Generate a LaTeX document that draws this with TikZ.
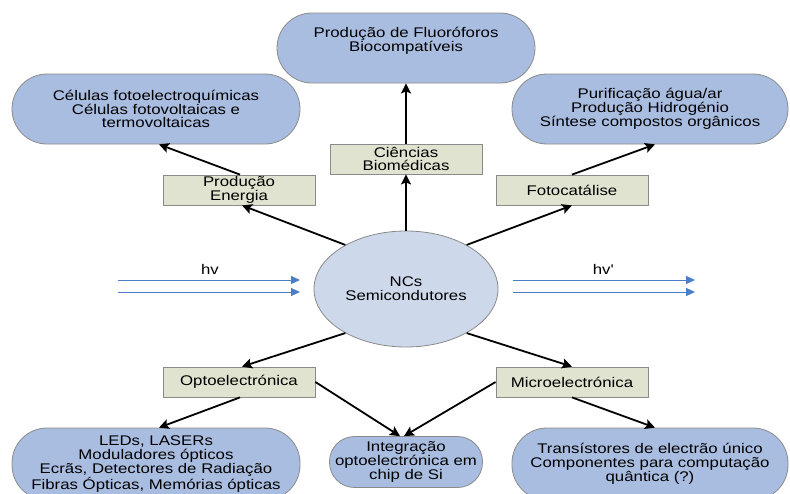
\documentclass[tikz,border=0pt]{standalone}
\usepackage{fontspec}
\setmainfont{Liberation Sans}[FakeStretch=1.2]
\usetikzlibrary{arrows.meta,shapes.geometric}
\definecolor{blobfill}{HTML}{A9BDE0}
\definecolor{ellfill}{HTML}{CDD8EB}
\definecolor{boxfill}{HTML}{DFE3CF}
\definecolor{edgegray}{HTML}{8A8A8A}
\definecolor{rayblue}{HTML}{4A7EC6}
\tikzset{
  blob/.style={draw=edgegray, line width=0.8pt, fill=blobfill, rounded corners=35pt,
    minimum width=288pt, minimum height=72pt, inner sep=0pt, align=center,
    font=\fontsize{14}{13.8}\selectfont},
  smallblob/.style={blob, rounded corners=25pt, minimum width=153pt, minimum height=51pt},
  catbox/.style={draw=edgegray, line width=0.8pt, fill=boxfill, minimum width=152pt,
    minimum height=30pt, inner sep=0pt, align=center, font=\fontsize{14}{13.8}\selectfont},
  core/.style={draw=edgegray, line width=0.8pt, fill=ellfill, ellipse, minimum width=184pt,
    minimum height=116pt, inner sep=0pt, align=center, font=\fontsize{14}{13.8}\selectfont},
  link/.style={draw=black, line width=1.8pt, -{Stealth[length=10pt,width=10pt,inset=2pt]}},
  ray/.style={draw=rayblue, line width=1pt, -{Triangle[length=9pt,width=8pt]}},
  lbl/.style={font=\fontsize{14}{13.8}\selectfont, inner sep=0pt}
}
\begin{document}
\begin{tikzpicture}[x=1pt,y=-1pt]
\useasboundingbox (0,0) rectangle (790,493);
% nodes
\node[blob, minimum width=258pt, minimum height=70pt] (fluo) at (406,48) {};
\node[lbl, align=center] (fluotxt) at (406,41) {Produção de Fluoróforos\\Biocompatíveis};
\node[blob, minimum height=70pt] (cel) at (156,109) {Células fotoelectroquímicas\\Células fotovoltaicas e\\termovoltaicas};
\node[blob, minimum width=276pt, minimum height=70pt] (puri) at (650,109) {Purificação água/ar\\Produção Hidrogénio\\Síntese compostos orgânicos};
\node[catbox] (cb) at (406,159) {Ciências\\Biomédicas};
\node[catbox] (pe) at (239,190) {Produção\\Energia};
\node[catbox] (fc) at (572,190) {Fotocatálise};
\node[core] (nc) at (406,289) {NCs\\Semicondutores};
\node[catbox] (op) at (239,382) {Optoelectrónica};
\node[catbox] (mc) at (572,382) {Microelectrónica};
\node[blob] (led) at (156,464) {LEDs, LASERs\\Moduladores ópticos\\Ecrãs, Detectores de Radiação\\Fibras Ópticas, Memórias ópticas};
\node[smallblob] (int) at (406,462) {Integração\\optoelectrónica em\\chip de Si};
\node[blob, minimum width=276pt] (tr) at (650,464) {Transístores de electrão único\\Componentes para computação\\quântica (?)};
% light rays
\coordinate (l1s) at (118,280); \coordinate (l1e) at (300,280);
\coordinate (l2s) at (118,292); \coordinate (l2e) at (300,292);
\coordinate (r1s) at (513,280); \coordinate (r1e) at (695,280);
\coordinate (r2s) at (513,292); \coordinate (r2e) at (695,292);
\draw[ray] (l1s) -- (l1e);
\draw[ray] (l2s) -- (l2e);
\draw[ray] (r1s) -- (r1e);
\draw[ray] (r2s) -- (r2e);
\node[lbl] (hv) at (210,269) {hv};
\node[lbl] (hvp) at (603,269) {hv\textquotesingle};
% connectors
\draw[link] (nc.144) -- ([xshift=3pt]pe.south);
\draw[link] ([xshift=1pt]pe.north) -- ([xshift=3pt]cel.south);
\draw[link] (nc.north) -- (cb.south);
\draw[link] (cb.north) -- (fluo.south);
\draw[link] (nc.36) -- (fc.south);
\draw[link] (fc.north) -- ([xshift=5pt]puri.south);
\draw[link] (nc.216) -- ([xshift=3pt]op.north);
\draw[link] ([xshift=1pt]op.south) -- ([xshift=3pt]led.north);
\draw[link] (op.east) -- ([xshift=-6pt]int.north);
\draw[link] (mc.west) -- ([xshift=-2pt]int.north);
\draw[link] (nc.-36) -- (mc.north);
\draw[link] (mc.south) -- ([xshift=5pt]tr.north);
\end{tikzpicture}
\end{document}
